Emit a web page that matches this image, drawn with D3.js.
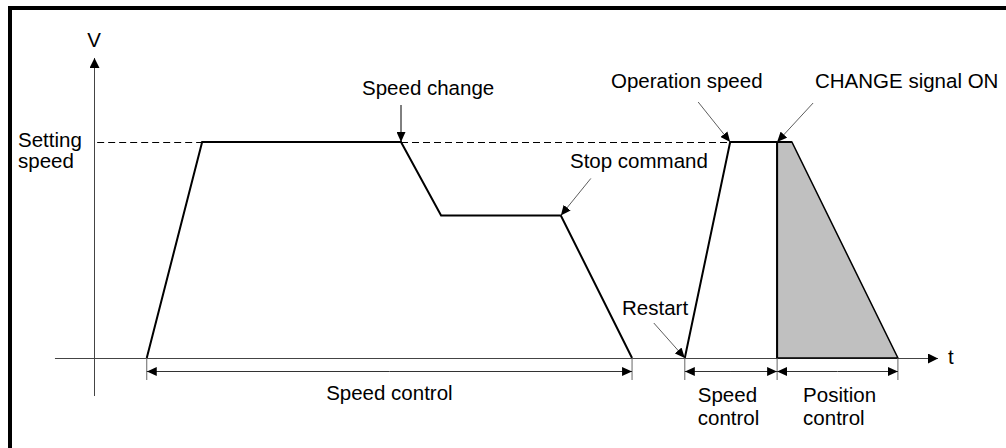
<!DOCTYPE html>
<html>
<head>
<meta charset="utf-8">
<script src="https://cdn.jsdelivr.net/npm/d3@7"></script>
<style>
  body { margin: 0; background: #fff; }
  svg text { font-family: "Liberation Sans", Arial, sans-serif; font-size: 20.5px; fill: #000; }
</style>
</head>
<body>
<div id="chart"></div>
<script>
// time / speed values (speed in % of setting speed)
const firstRunT = [10, 20.5, 58.2, 65.8, 88.5, 102];
const firstRunV = [0, 100, 100, 66, 66, 0];
const secondRunT = [112, 120.6, 129.5, 129.5];
const secondRunV = [0, 100, 100, 0];
const positionT = [129.5, 132.3, 152.4, 129.5];
const positionV = [100, 100, 0, 0];
const settingSpeed = 100;

// dimension spans below the time axis
const spans = [
  { from: 10, to: 102, label: ['Speed control'] },
  { from: 112, to: 129.5, label: ['Speed', 'control'] },
  { from: 129.5, to: 152.4, label: ['Position', 'control'] }
];

const width = 1006, height = 448;

const svg = d3.select('#chart').append('svg')
  .attr('width', width)
  .attr('height', height);

const x = d3.scaleLinear().domain([0, 160]).range([94, 938]);
const y = d3.scaleLinear().domain([0, 100]).range([358, 142]);

const defs = svg.append('defs');
function marker(id, len, half) {
  defs.append('marker')
    .attr('id', id)
    .attr('viewBox', `0 ${-half} ${len} ${half * 2}`)
    .attr('refX', len).attr('refY', 0)
    .attr('markerUnits', 'userSpaceOnUse')
    .attr('markerWidth', len).attr('markerHeight', half * 2)
    .attr('orient', 'auto')
    .append('path')
    .attr('d', `M0,${-half}L${len},0L0,${half}Z`)
    .attr('fill', '#000');
}
marker('axisArrow', 10, 5);
marker('dimArrow', 10, 4.5);
marker('noteArrow', 10, 4.5);

// frame
svg.append('rect')
  .attr('x', 10).attr('y', 8)
  .attr('width', 1100).attr('height', 600)
  .attr('fill', 'none')
  .attr('stroke', '#000')
  .attr('stroke-width', 4);

// axes
svg.append('line')
  .attr('x1', x(0) + 0.5).attr('y1', y(-17.6))
  .attr('x2', x(0) + 0.5).attr('y2', y(138.9))
  .attr('stroke', '#444').attr('stroke-width', 1)
  .attr('marker-end', 'url(#axisArrow)');
svg.append('line')
  .attr('x1', x(-7.4)).attr('y1', y(0) + 0.5)
  .attr('x2', x(160)).attr('y2', y(0) + 0.5)
  .attr('stroke', '#444').attr('stroke-width', 1)
  .attr('marker-end', 'url(#axisArrow)');

svg.append('text').attr('x', x(0)).attr('y', 47)
  .attr('text-anchor', 'middle').text('V');
svg.append('text').attr('x', x(160) + 10).attr('y', y(0) + 6).text('t');

svg.append('text').attr('x', 18).attr('y', 147).text('Setting');
svg.append('text').attr('x', 18).attr('y', 168).text('speed');

// setting speed dashed guides
const dashes = [[0.6, firstRunT[1]], [firstRunT[2], secondRunT[1]]];
svg.append('g').selectAll('line').data(dashes).join('line')
  .attr('x1', d => x(d[0])).attr('x2', d => x(d[1]))
  .attr('y1', y(settingSpeed) + 0.5).attr('y2', y(settingSpeed) + 0.5)
  .attr('stroke', '#000').attr('stroke-width', 1)
  .attr('stroke-dasharray', '7,4');

// position control shaded area
const line = d3.line().x(d => x(d[0])).y(d => y(d[1]));
svg.append('path')
  .attr('d', line(d3.zip(positionT, positionV)) + 'Z')
  .attr('fill', '#c0c0c0')
  .attr('stroke', '#000').attr('stroke-width', 1.5);

svg.append('path')
  .attr('d', line(d3.zip(firstRunT, firstRunV)))
  .attr('fill', 'none').attr('stroke', '#000').attr('stroke-width', 2);
svg.append('path')
  .attr('d', line(d3.zip(secondRunT, secondRunV)))
  .attr('fill', 'none').attr('stroke', '#000').attr('stroke-width', 2);
svg.append('line')
  .attr('x1', x(positionT[0])).attr('x2', x(positionT[1]))
  .attr('y1', y(100)).attr('y2', y(100))
  .attr('stroke', '#000').attr('stroke-width', 2);

// annotations: label, tip point, tail offset
const notes = [
  { text: 'Speed change', tx: 362, ty: 95, t: firstRunT[2], v: 100, dx: 0, dy: -37 },
  { text: 'Stop command', tx: 570, ty: 168, t: firstRunT[4], v: 66, dx: 30, dy: -37 },
  { text: 'Operation speed', tx: 611, ty: 88, t: secondRunT[1], v: 100, dx: -32, dy: -40 },
  { text: 'CHANGE signal ON', tx: 815, ty: 88, t: secondRunT[2], v: 100, dx: 36, dy: -39 },
  { text: 'Restart', tx: 622, ty: 315, t: secondRunT[0], v: 0, dx: -31, dy: -35 }
];
const ng = svg.append('g');
notes.forEach(n => {
  const px = x(n.t), py = y(n.v);
  ng.append('line')
    .attr('x1', px + n.dx).attr('y1', py + n.dy)
    .attr('x2', px).attr('y2', py)
    .attr('stroke', n.dx === 0 ? '#000' : '#333')
    .attr('stroke-width', n.dx === 0 ? 1 : 0.8)
    .attr('marker-end', 'url(#noteArrow)');
  ng.append('text').attr('x', n.tx).attr('y', n.ty).text(n.text);
});

// dimension lines
const dimY = 371.5;
const ticks = Array.from(new Set(spans.flatMap(s => [s.from, s.to])));
svg.append('g').selectAll('line').data(ticks).join('line')
  .attr('x1', d => x(d)).attr('x2', d => x(d))
  .attr('y1', y(0)).attr('y2', 380)
  .attr('stroke', '#666').attr('stroke-width', 1);

const dg = svg.append('g').selectAll('g').data(spans).join('g');
dg.append('line')
  .attr('x1', d => (x(d.from) + x(d.to)) / 2).attr('x2', d => x(d.to))
  .attr('y1', dimY).attr('y2', dimY)
  .attr('stroke', '#333').attr('stroke-width', 1)
  .attr('marker-end', 'url(#dimArrow)');
dg.append('line')
  .attr('x1', d => (x(d.from) + x(d.to)) / 2).attr('x2', d => x(d.from))
  .attr('y1', dimY).attr('y2', dimY)
  .attr('stroke', '#333').attr('stroke-width', 1)
  .attr('marker-end', 'url(#dimArrow)');
dg.each(function (d) {
  const g = d3.select(this);
  if (d.label.length === 1) {
    g.append('text')
      .attr('x', (x(d.from) + x(d.to)) / 2).attr('y', 400)
      .attr('text-anchor', 'middle').text(d.label[0]);
  } else {
    d.label.forEach((s, i) => {
      g.append('text')
        .attr('x', x(d.from) + 13 + (d.from > 120 ? 13 : 0)).attr('y', 402 + i * 23)
        .text(s);
    });
  }
});
</script>
</body>
</html>
